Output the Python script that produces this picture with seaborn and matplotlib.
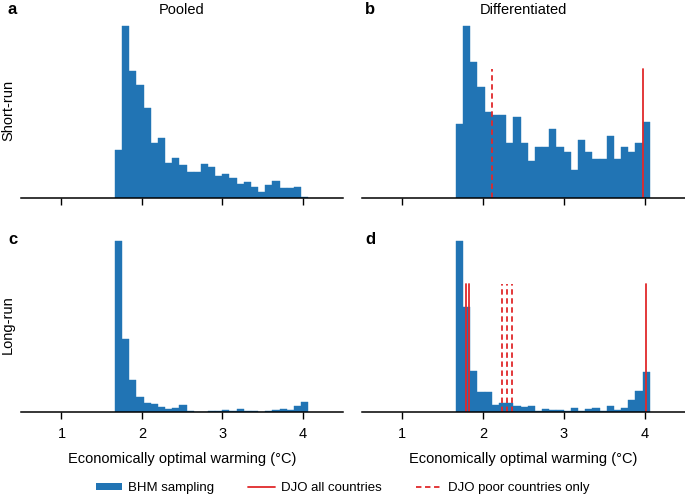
import numpy as np
import pandas as pd
import matplotlib
matplotlib.use("Agg")
import matplotlib.pyplot as plt
import seaborn as sns
from matplotlib.patches import Patch
from matplotlib.lines import Line2D

# bins shared by all four histograms
n_bins = 27
bin_lo, bin_hi = 1.665, 4.065
bin_edges = np.linspace(bin_lo, bin_hi, n_bins + 1)
bin_centers = (bin_edges[:-1] + bin_edges[1:]) / 2

# bar heights (arbitrary units)
pooled_short = [142, 513, 379, 339, 268, 165, 179, 105, 119, 98, 78, 78, 102, 92,
                65, 72, 58, 42, 48, 32, 17, 39, 51, 28, 28, 32, 2]
diff_short = [220, 513, 408, 332, 256, 248, 248, 165, 241, 165, 110, 151, 151, 207,
              151, 137, 82, 172, 137, 117, 117, 186, 117, 151, 137, 165, 228]
pooled_long = [512, 219, 95, 45, 27, 24, 14, 8, 12, 21, 2, 1, 0, 3,
               2, 5, 3, 10, 4, 4, 1, 2, 5, 9, 6, 19, 31]
diff_long = [512, 315, 122, 59, 61, 22, 26, 28, 19, 16, 18, 2, 8, 6,
             6, 2, 11, 3, 8, 11, 3, 19, 6, 13, 36, 64, 120]

# DJO optimal warming values
djo_all_short = [3.985]
djo_poor_short = [2.117]
djo_all_long = [1.79, 1.83, 4.02]
djo_poor_long = [2.24, 2.30, 2.36]

bar_color = "#2174b4"
red = "#e0292b"

sns.set_style("white")
plt.rcParams["font.family"] = ["Liberation Sans", "DejaVu Sans"]
plt.rcParams["font.size"] = 10.5
plt.rcParams["text.color"] = "black"
plt.rcParams["axes.labelcolor"] = "black"
plt.rcParams["xtick.labelcolor"] = "black"

fig = plt.figure(figsize=(6.85, 4.97), dpi=100)
ax_a = fig.add_axes([0.031, 0.602, 0.470, 0.362])
ax_b = fig.add_axes([0.528, 0.602, 0.472, 0.362])
ax_c = fig.add_axes([0.031, 0.171, 0.470, 0.362])
ax_d = fig.add_axes([0.528, 0.171, 0.472, 0.362])

panels = [
    (ax_a, pooled_short, [], []),
    (ax_b, diff_short, djo_all_short, djo_poor_short),
    (ax_c, pooled_long, [], []),
    (ax_d, diff_long, djo_all_long, djo_poor_long),
]

for ax, heights, all_lines, poor_lines in panels:
    df = pd.DataFrame({"warming": bin_centers, "count": heights})
    sns.histplot(data=df, x="warming", weights="count", bins=n_bins,
                 binrange=(bin_lo, bin_hi), ax=ax,
                 color=bar_color, alpha=1, edgecolor=bar_color, linewidth=0.3)
    ax.set_ylim(0, max(heights) * 1.05)
    for v in all_lines:
        ax.axvline(v, ymin=0, ymax=0.714, color=red, lw=1.3)
    for v in poor_lines:
        ax.axvline(v, ymin=0, ymax=0.714, color=red, lw=1.3, ls=(0, (3, 2)))
    ax.set_xlim(0.5, 4.5)
    ax.set_xticks([1, 2, 3, 4])
    ax.set_yticks([])
    ax.set_ylabel("")
    ax.set_xlabel("")
    sns.despine(ax=ax, left=True)
    ax.spines["bottom"].set_color("black")
    ax.spines["bottom"].set_linewidth(1.1)
    ax.tick_params(axis="x", direction="out", length=5, width=1, color="black",
                   bottom=True, labelsize=10.5, labelcolor="black", pad=6)

for ax in (ax_a, ax_b):
    ax.tick_params(axis="x", labelbottom=False)
for ax in (ax_c, ax_d):
    ax.set_xlabel("Economically optimal warming (°C)", fontsize=10.5, labelpad=8)

H = 497
fig.text(8 / 685, 1 - 10 / H, "a", fontweight="bold", fontsize=12, va="center", ha="left")
fig.text(365 / 685, 1 - 10 / H, "b", fontweight="bold", fontsize=12, va="center", ha="left")
fig.text(8 / 685, 1 - 240 / H, "c", fontweight="bold", fontsize=12, va="center", ha="left")
fig.text(365 / 685, 1 - 240 / H, "d", fontweight="bold", fontsize=12, va="center", ha="left")
fig.text(182 / 685, 1 - 10 / H, "Pooled", fontsize=10.5, va="center", ha="center")
fig.text(523 / 685, 1 - 10 / H, "Differentiated", fontsize=10.5, va="center", ha="center")
fig.text(8 / 685, 1 - 110 / H, "Short-run", rotation=90, fontsize=10.5, va="center", ha="center")
fig.text(8 / 685, 1 - 325 / H, "Long-run", rotation=90, fontsize=10.5, va="center", ha="center")

handles = [
    Patch(facecolor=bar_color, edgecolor="none"),
    Line2D([], [], color=red, lw=1.3),
    Line2D([], [], color=red, lw=1.3, ls=(0, (3, 2))),
]
labels = ["BHM sampling", "DJO all countries", "DJO poor countries only"]
fig.legend(handles, labels, loc="center", bbox_to_anchor=(0.5, 1 - 488 / H), ncol=3,
           frameon=False, fontsize=9.5, handlelength=2.0, handleheight=0.5,
           columnspacing=2.6, handletextpad=0.45)

fig.savefig("out.png", dpi=100)
